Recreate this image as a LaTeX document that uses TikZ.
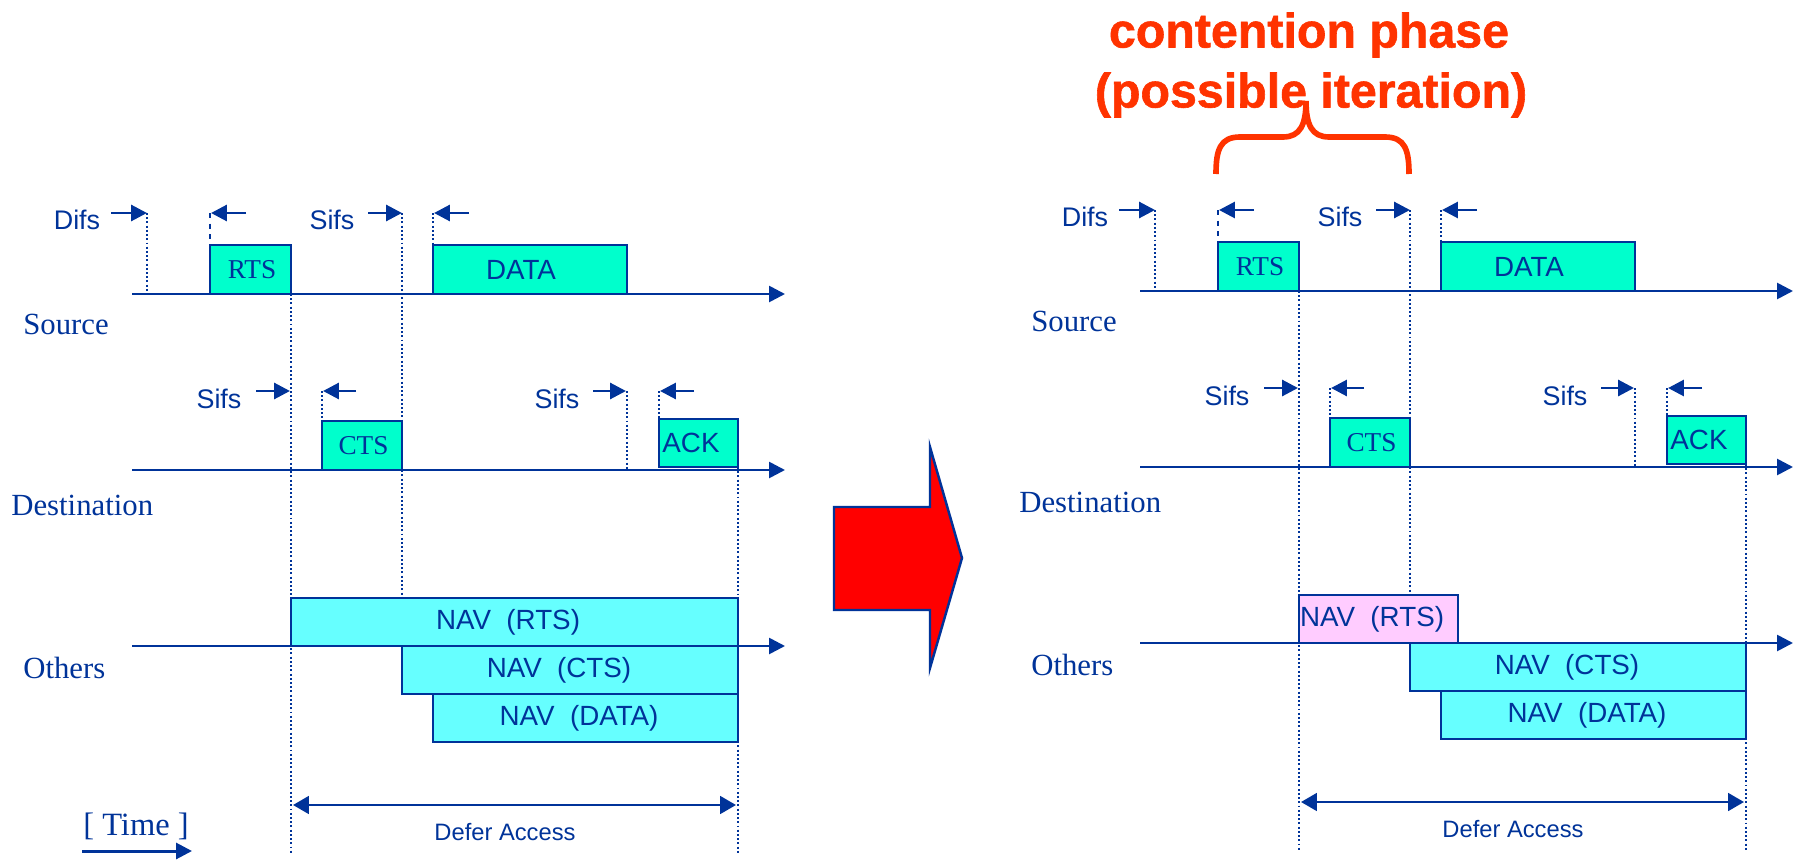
\documentclass[tikz,border=0pt]{standalone}
\usepackage{fontspec}
\setmainfont{Liberation Serif}
\setsansfont{Liberation Sans}
\newfontfamily\phasefont[FakeBold=1.2]{Liberation Sans Bold}
\usetikzlibrary{arrows.meta}
\definecolor{linkblue}{HTML}{003399}
\definecolor{pktgreen}{HTML}{00FFCC}
\definecolor{navcyan}{HTML}{66FFFF}
\definecolor{navpink}{HTML}{FFCCFF}
\definecolor{phasered}{HTML}{FF3300}

\begin{document}
\begin{tikzpicture}[x=0.2mm, y=-0.2mm,
  timeline/.style={linkblue, line width=1.5pt, -{Triangle[length=9pt,width=9pt]}},
  gaparrow/.style={linkblue, line width=1.7pt, -{Triangle[length=9pt,width=9pt]}},
  guide/.style={linkblue, line width=1.1pt, dash pattern=on 1.1pt off 1.3pt},
  pktbox/.style={draw=linkblue, line width=1.5pt, fill=pktgreen},
  navbox/.style={draw=linkblue, line width=1.5pt},
  sanslbl/.style={text=linkblue, font=\sffamily\fontsize{15.3}{17}\selectfont},
  seriflbl/.style={text=linkblue, font=\fontsize{15.5}{18}\selectfont},
  pktlbl/.style={text=linkblue, font=\sffamily\fontsize{15.8}{18}\selectfont},
  station/.style={text=linkblue, anchor=west, inner sep=0pt, font=\fontsize{17.5}{20}\selectfont},
  phase/.style={text=phasered, font=\phasefont\fontsize{27.5}{30}\selectfont}
]
\useasboundingbox (0,0) rectangle (1796,860);

% both panels share the same time lines
\foreach \dx/\dy/\p/\navend/\navfill in {0/0/l/738/navcyan, 1008/-3/r/450/navpink} {
\begin{scope}[shift={(\dx,\dy)}]
  % NAV boxes first, the time line goes over them
  \draw[navbox, fill=\navfill] (291,598) rectangle node[pktlbl, xshift=-1.3mm] (navrts\p) {NAV~~(RTS)} (\navend,646);
  \draw[navbox, fill=navcyan] (402,646) rectangle node[pktlbl, xshift=-2.2mm] (navcts\p) {NAV~~(CTS)} (738,694);
  \draw[navbox, fill=navcyan] (433,694) rectangle node[pktlbl, xshift=-1.3mm] (navdata\p) {NAV~~(DATA)} (738,742);

  \node[station] (src\p) at (23,324) {Source};
  \node[station] (dst\p) at (11,505) {Destination};
  \node[station] (oth\p) at (23,668) {Others};
  \draw[timeline] (132,294) -- (785,294);
  \draw[timeline] (132,470) -- (785,470);
  \draw[timeline] (132,646) -- (785,646);

  % source
  \node[sanslbl] (difs\p) at (77,220) {Difs};
  \draw[gaparrow] (111,213) -- (147,213);
  \draw[guide] (147,213) -- (147,294);
  \draw[pktbox] (210,245) rectangle node[seriflbl, xshift=0.3mm] (rts\p) {RTS} (291,294);
  \draw[linkblue, line width=1.3pt, dashed] (210,213) -- (210,245);
  \draw[gaparrow] (246,213) -- (211,213);
  \node[sanslbl] (sifsa\p) at (332,220) {Sifs};
  \draw[gaparrow] (368,213) -- (402,213);
  \draw[guide] (402,213) -- (402,598);
  \draw[pktbox] (433,245) rectangle node[pktlbl, xshift=-1.8mm] (data\p) {DATA} (627,294);
  \draw[guide] (433,213) -- (433,245);
  \draw[gaparrow] (469,213) -- (434,213);

  % destination
  \node[sanslbl] (sifsb\p) at (219,399) {Sifs};
  \draw[gaparrow] (256,391) -- (290,391);
  \draw[pktbox] (322,421) rectangle node[seriflbl, xshift=0.3mm] (cts\p) {CTS} (402,470);
  \draw[guide] (322,391) -- (322,421);
  \draw[gaparrow] (356,391) -- (323,391);
  \node[sanslbl] (sifsc\p) at (557,399) {Sifs};
  \draw[gaparrow] (593,391) -- (626,391);
  \draw[guide] (627,391) -- (627,470);
  \draw[pktbox] (659,419) rectangle node[pktlbl, xshift=-1.5mm] (ack\p) {ACK} (738,467);
  \draw[guide] (659,391) -- (659,419);
  \draw[gaparrow] (694,391) -- (660,391);

  % defer
  \draw[guide] (291,294) -- (291,853);
  \draw[guide] (738,467) -- (738,853);
  \draw[linkblue, line width=1.5pt, {Triangle[length=9pt,width=10pt]}-{Triangle[length=9pt,width=10pt]}] (293,805) -- (736,805);
  \node[sanslbl, font=\sffamily\fontsize{13.5}{16}\selectfont] (defer\p) at (505,832) {Defer Access};
\end{scope}
}

\node[station, anchor=center, font=\fontsize{18.5}{20}\selectfont] (time) at (136,826) {[ Time ]};
\draw[gaparrow] (82,851) -- (192,851);

% change arrow
\draw[draw=linkblue, fill=red, line width=1.4pt] (834,507) -- (930,507) -- (930,447) -- (962,558)
  -- (930,668) -- (930,610) -- (834,610) -- cycle;

% contention phase
\node[phase] (phase1) at (1309,35) {contention phase};
\node[phase] (phase2) at (1311,95) {(possible iteration)};
\draw[phasered, line width=3.2pt] (1216,174) .. controls (1216,150) and (1220,137) .. (1240,137) -- (1283,137)
  .. controls (1300,137) and (1306,125) .. (1306,101)
  .. controls (1306,125) and (1312,137) .. (1329,137) -- (1385,137)
  .. controls (1405,137) and (1409,150) .. (1409,174);
\end{tikzpicture}
\end{document}
